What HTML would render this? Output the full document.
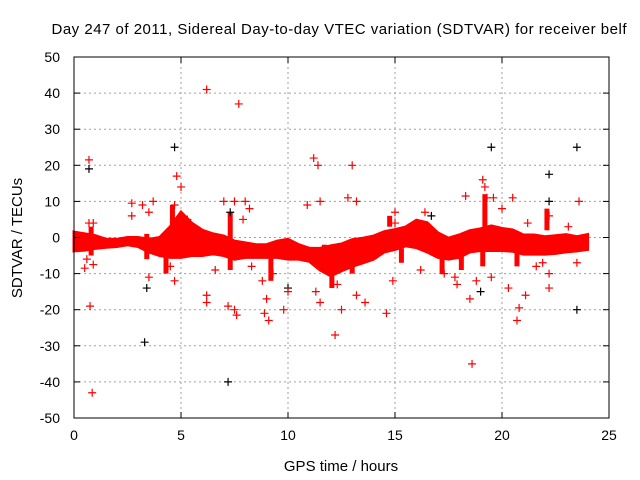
<!DOCTYPE html>
<html><head><meta charset="utf-8"><style>
body{margin:0;background:#fff}
svg{display:block;font-family:"Liberation Sans",sans-serif}
</style></head><body>
<svg id="chart" width="640" height="480">
<text x="339" y="34" text-anchor="middle" font-size="15" textLength="575">Day 247 of 2011, Sidereal Day-to-day VTEC variation (SDTVAR) for receiver belf</text>
<text transform="translate(22,238) rotate(-90)" text-anchor="middle" font-size="15">SDTVAR / TECUs</text>
<text x="341" y="471" text-anchor="middle" font-size="15">GPS time / hours</text>
<g id="grid"></g><g id="band"></g><g id="streaks"></g><g id="pts"></g><g id="axes"></g>
</svg>
<script>
const xTicks=[0,5,10,15,20,25];
const yTicks=[50,40,30,20,10,0,-10,-20,-30,-40,-50];
const bandHours=[0,0.5,1,1.5,2,2.5,3,3.5,4,4.5,5,5.5,6,6.5,7,7.5,8,8.5,9,9.5,10,10.5,11,11.5,12,12.5,13,13.5,14,14.5,15,15.5,16,16.5,17,17.5,18,18.5,19,19.5,20,20.5,21,21.5,22,22.5,23,23.5,24];
const bandTop=[1.5,1,0.5,-0.5,-0.5,0,0,-0.5,0,3,7,4,2,1,0.4,-1,-1.5,-2,-2,-1,-0.5,-2,-3,-3,-2.3,-1.8,-0.6,-0.2,0.4,1.6,2.2,2.9,4.8,4.1,1.3,-0.2,0.7,1.9,2.4,3.2,2.5,2.1,0.7,0.7,0.2,0.5,0.8,0.2,0.8];
const bandBottom=[-3.7,-3.5,-3,-2.7,-2.5,-2,-2.5,-4,-5,-5.5,-5.5,-5,-5,-4.5,-5,-6,-5.5,-5.5,-5.5,-5.5,-6,-6,-6.6,-9,-10.6,-9.2,-8,-7,-6,-4,-3.3,-2.3,-2.8,-4,-5.5,-6,-5.5,-4,-3.6,-3.6,-3.6,-3.8,-4.6,-4.6,-4.6,-4.4,-4,-3.7,-3.3];
const streakHours=[0.8,3.4,4.3,4.6,6.5,7.3,9.2,11.7,12.05,13.0,14.75,15.3,17.2,18.1,19.1,19.2,20.7,22.0,22.1];
const streakMin=[-5,-6,-10,-3,-5,-9,-12,-8,-14,-10,3,-7,-10,-9,-8,2,-8,-5,2];
const streakMax=[3,1,0,9,1,7,-3,-2,-5,-5,6,-3,-4,-4,-3,12,-3,0,8];
const redHours=[0.7,0.75,0.85,0.7,0.9,0.6,0.9,0.5,2.7,2.7,3.5,3.7,3.2,3.5,6.2,7.7,4.8,5,4.7,4.5,4.7,6.2,6.2,7.6,7.5,7.2,7,7.5,8,8.2,7.9,8.9,9.1,9,8.8,9.3,9.8,10,11.2,11.4,11.5,11.3,11.5,12.2,12.5,13,12.8,13.2,13.2,13.6,14.6,15,15,14.9,17.3,17.9,18.3,18.6,18.5,19.1,19.2,19.3,19.6,19.5,20,20.5,20.8,20.7,21.1,21.2,22.2,22.2,22.2,23.6,23.5,21.9,5.3,6.6,8.3,10.9,12.3,16.2,16.4,17.8,18.8,20.3,21.6,23.1];
const redVals=[21.5,-19,-43,4,4,-6,-7.5,-8.5,9.5,6,-11,10,9,7,41,37,17,14,9,-8,-12,-18,-16,-21.5,-20,-19,10,10,10,8,5,-21,-23,-17,-12,-10,-20,-15,22,20,10,-15,-18,-27,-20,20,11,10,-16,-18,-21,7,4,-12,-10,-13,11.5,-35,-17,16,14,11,11,-11,8,11,-19.5,-23,-16,4,-14,-10,6,10,-7,-7,5,-9,-8,9,-13,-9,7,-11,-12,-14,-8,3];
const blackHours=[0.7,3.3,3.4,4.7,7.2,16.7,19.5,19,22.2,22.2,23.5,23.5,7.3,10];
const blackVals=[19,-29,-14,25,-40,6,25,-15,17.5,10,25,-20,7,-14];
const X0=74,X1=609,Y0=418,Y1=57;
const sx=h=>X0+(h-0)/(25-0)*(X1-X0);
const sy=v=>Y0-(v+50)/100*(Y0-Y1);
const NS="http://www.w3.org/2000/svg";
function mk(t,a,p){const e=document.createElementNS(NS,t);for(const k in a)e.setAttribute(k,a[k]);p.appendChild(e);return e;}
const grid=document.getElementById('grid'),axes=document.getElementById('axes');
xTicks.forEach(t=>{const x=sx(t);
 if(t>0&&t<25){const l=mk('line',{x1:x,x2:x,y1:Y1,y2:Y0,stroke:'#a0a0a0','stroke-dasharray':'2,3'},grid);
 
 }
 mk('line',{x1:x,x2:x,y1:Y0,y2:Y0-6,stroke:'#000'},axes);
 mk('line',{x1:x,x2:x,y1:Y1,y2:Y1+6,stroke:'#000'},axes);
 const tx=mk('text',{x:x,y:Y0+22,'text-anchor':'middle','font-size':'14'},axes);tx.textContent=t;
 
 });
yTicks.forEach(t=>{const y=sy(t);
 if(t>-50&&t<50){const l=mk('line',{x1:X0,x2:X1,y1:y,y2:y,stroke:'#a0a0a0','stroke-dasharray':'2,3'},grid);
 
 }
 mk('line',{x1:X0,x2:X0+6,y1:y,y2:y,stroke:'#000'},axes);
 mk('line',{x1:X1,x2:X1-6,y1:y,y2:y,stroke:'#000'},axes);
 const tx=mk('text',{x:X0-14,y:y+5,'text-anchor':'end','font-size':'14'},axes);tx.textContent=t;
 
 });
const fr=mk('rect',{x:X0,y:Y1,width:X1-X0,height:Y0-Y1,fill:'none',stroke:'#000','stroke-width':1},axes);


let d='';bandHours.forEach((h,i)=>{d+=(i?'L':'M')+sx(h)+','+sy(bandTop[i]);});
for(let i=bandHours.length-1;i>=0;i--)d+='L'+sx(bandHours[i])+','+sy(bandBottom[i]);
const band=mk('path',{d:d+'Z',fill:'#ff0000',stroke:'#ff0000','stroke-width':3},document.getElementById('band'));


const sg=document.getElementById('streaks');
streakHours.forEach((h,i)=>{const r=mk('rect',{x:sx(h)-2.5,y:sy(streakMax[i]),width:5,height:sy(streakMin[i])-sy(streakMax[i]),fill:'#ff0000'},sg);
 
 });
const pg=document.getElementById('pts');
function plus(h,v,c){const x=sx(h),y=sy(v);
 const p=mk('path',{d:`M${x-4},${y}H${x+4}M${x},${y-4}V${y+4}`,stroke:c,'stroke-width':1.2},pg);return p;}
blackHours.forEach((h,i)=>{const p=plus(h,blackVals[i],'#000');
 
 });
redHours.forEach((h,i)=>{const p=plus(h,redVals[i],'#ff0000');
 
 });
</script>
</body></html>
